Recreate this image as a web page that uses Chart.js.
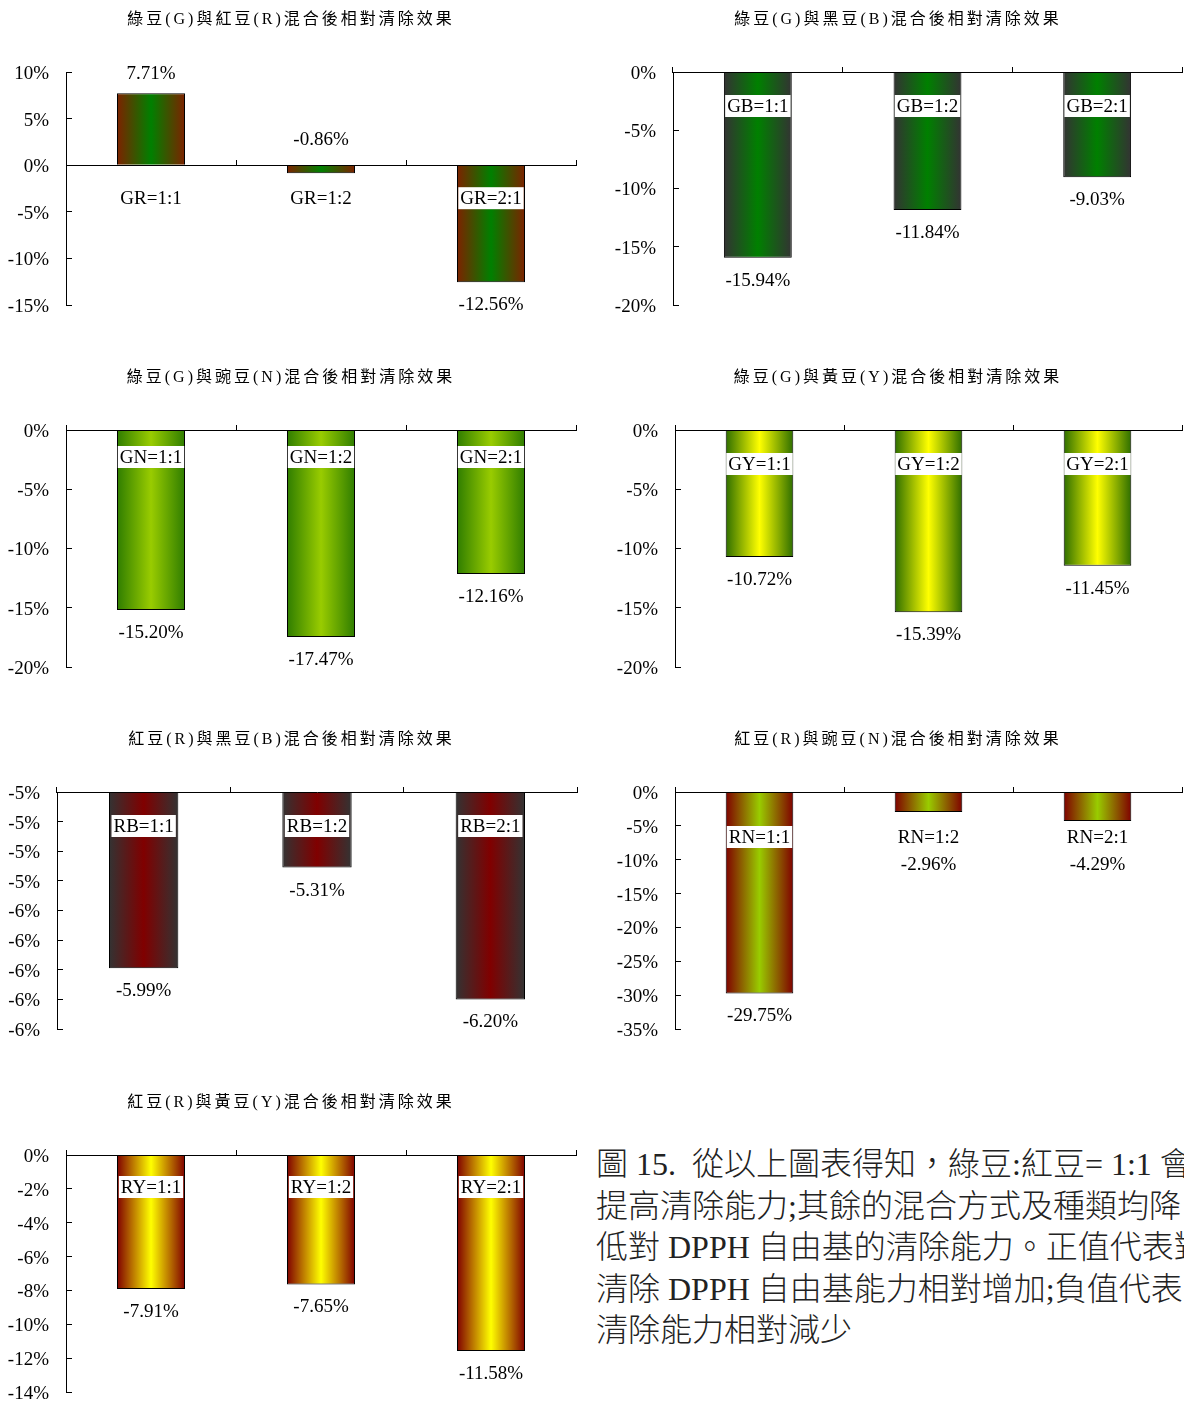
<!DOCTYPE html>
<html>
<head>
<meta charset="utf-8">
<title>混合後相對清除效果</title>
<script src="https://cdn.jsdelivr.net/npm/chart.js@4.4.0/dist/chart.umd.min.js"></script>
<style>
  html, body { margin: 0; padding: 0; background: #fff; overflow: hidden; }
  body { width: 1184px; height: 1403px; position: relative; }
  canvas { position: absolute; }
  #note {
    position: absolute; left: 596px; top: 1144px;
    font-family: "Liberation Serif", "Noto Sans CJK TC", serif;
    font-size: 32px; font-weight: 300; line-height: 41.5px; color: #222;
    white-space: pre;
  }
</style>
</head>
<body>
<div id="note">圖 15.  從以上圖表得知，綠豆:紅豆= 1:1 會
提高清除能力;其餘的混合方式及種類均降
低對 DPPH 自由基的清除能力。正值代表對
清除 DPPH 自由基能力相對增加;負值代表
清除能力相對減少</div>

<script>
// 綠豆(G)與紅豆(R)
const grLabels = ['GR=1:1', 'GR=1:2', 'GR=2:1'];
const grValues = [7.71, -0.86, -12.56];
const grTicks = [-15, -10, -5, 0, 5, 10];

// 綠豆(G)與黑豆(B)
const gbLabels = ['GB=1:1', 'GB=1:2', 'GB=2:1'];
const gbValues = [-15.94, -11.84, -9.03];
const gbTicks = [-20, -15, -10, -5, 0];

// 綠豆(G)與豌豆(N)
const gnLabels = ['GN=1:1', 'GN=1:2', 'GN=2:1'];
const gnValues = [-15.20, -17.47, -12.16];
const gnTicks = [-20, -15, -10, -5, 0];

// 綠豆(G)與黃豆(Y)
const gyLabels = ['GY=1:1', 'GY=1:2', 'GY=2:1'];
const gyValues = [-10.72, -15.39, -11.45];
const gyTicks = [-20, -15, -10, -5, 0];

// 紅豆(R)與黑豆(B) - axis runs from -4.8% down to -6.4%, labels rounded
const rbLabels = ['RB=1:1', 'RB=1:2', 'RB=2:1'];
const rbValues = [-5.99, -5.31, -6.20];
const rbTicks = [-6.4, -6.2, -6.0, -5.8, -5.6, -5.4, -5.2, -5.0, -4.8];
const rbTickLabels = ['-6%', '-6%', '-6%', '-6%', '-6%', '-5%', '-5%', '-5%', '-5%'];

// 紅豆(R)與豌豆(N)
const rnLabels = ['RN=1:1', 'RN=1:2', 'RN=2:1'];
const rnValues = [-29.75, -2.96, -4.29];
const rnTicks = [-35, -30, -25, -20, -15, -10, -5, 0];

// 紅豆(R)與黃豆(Y)
const ryLabels = ['RY=1:1', 'RY=1:2', 'RY=2:1'];
const ryValues = [-7.91, -7.65, -11.58];
const ryTicks = [-14, -12, -10, -8, -6, -4, -2, 0];

const serif = "'Liberation Serif', 'Noto Sans CJK TC', serif";

// where each chart sits on the page
const cols = [
  {left: 0, width: 582, padLeft: 6},
  {left: 614, width: 570, padLeft: 0}
];
const rows = [
  {top: 0, areaH: 233},
  {top: 358, areaH: 237},
  {top: 720, areaH: 237},
  {top: 1083, areaH: 237}
];

const specs = [
  {title: '綠豆(G)與紅豆(R)混合後相對清除效果', labels: grLabels, values: grValues, ticks: grTicks,
   edge: '#7d2200', mid: '#008000', col: 0, row: 0, yWidth: 60, right: 576, catGap: 33, clash: 'above'},
  {title: '綠豆(G)與黑豆(B)混合後相對清除效果', labels: gbLabels, values: gbValues, ticks: gbTicks,
   edge: '#333333', mid: '#008000', col: 1, row: 0, yWidth: 59, right: 1182, catGap: 34},
  {title: '綠豆(G)與豌豆(N)混合後相對清除效果', labels: gnLabels, values: gnValues, ticks: gnTicks,
   edge: '#2f7d00', mid: '#99cc00', col: 0, row: 1, yWidth: 60, right: 576, catGap: 27},
  {title: '綠豆(G)與黃豆(Y)混合後相對清除效果', labels: gyLabels, values: gyValues, ticks: gyTicks,
   edge: '#2e6e00', mid: '#ffff00', col: 1, row: 1, yWidth: 61, right: 1182, catGap: 34},
  {title: '紅豆(R)與黑豆(B)混合後相對清除效果', labels: rbLabels, values: rbValues, ticks: rbTicks, tickLabels: rbTickLabels,
   edge: '#333333', mid: '#800000', col: 0, row: 2, yWidth: 51, right: 577, catGap: 34},
  {title: '紅豆(R)與豌豆(N)混合後相對清除效果', labels: rnLabels, values: rnValues, ticks: rnTicks,
   edge: '#800000', mid: '#99cc00', col: 1, row: 2, yWidth: 61, right: 1182, catGap: 45, clash: 'below'},
  {title: '紅豆(R)與黃豆(Y)混合後相對清除效果', labels: ryLabels, values: ryValues, ticks: ryTicks,
   edge: '#800000', mid: '#ffff00', col: 0, row: 3, yWidth: 60, right: 576, catGap: 32}
];

function barFill(c, spec) {
  const chart = c.chart;
  const xs = chart.scales.x;
  if (!chart.chartArea || !xs) return spec.mid;
  const cx = xs.getPixelForValue(c.dataIndex);
  const w = xs.width / spec.labels.length * 0.4;
  const g = chart.ctx.createLinearGradient(cx - w / 2, 0, cx + w / 2, 0);
  g.addColorStop(0, spec.edge);
  g.addColorStop(0.5, spec.mid);
  g.addColorStop(1, spec.edge);
  return g;
}

// category names (white box) and value labels, plus letter spacing for the title
function labelPlugin(spec, base) {
  return {
    id: 'barLabels',
    beforeDraw(chart) { chart.ctx.letterSpacing = '3px'; },
    beforeDatasetsDraw(chart) { chart.ctx.letterSpacing = '0px'; },
    afterDatasetsDraw(chart) {
      const ctx = chart.ctx;
      const meta = chart.getDatasetMeta(0);
      const axisY = chart.scales.y.getPixelForValue(base);
      const catY = axisY + spec.catGap;
      ctx.save();
      ctx.font = '19px ' + serif;
      ctx.textAlign = 'center';
      ctx.textBaseline = 'middle';
      meta.data.forEach((bar, i) => {
        const name = spec.labels[i];
        const w = ctx.measureText(name).width;
        ctx.fillStyle = '#fff';
        ctx.fillRect(bar.x - w / 2 - 2, catY - 11, w + 4, 22);
        ctx.fillStyle = '#000';
        ctx.fillText(name, bar.x, catY + 1);

        const v = spec.values[i];
        let vy = v >= 0 ? bar.y - 19 : bar.y + 23;
        if (Math.abs(vy - catY) < 22) {
          vy = spec.clash === 'above' ? axisY - 25 : catY + 28;
        }
        ctx.fillText(v.toFixed(2) + '%', bar.x, vy);
      });
      ctx.restore();
    }
  };
}

function makeChart(spec) {
  const col = cols[spec.col];
  const row = rows[spec.row];
  const bottomPad = 35;
  const height = 72 + row.areaH + bottomPad;
  const canvas = document.createElement('canvas');
  canvas.width = col.width;
  canvas.height = height;
  canvas.style.left = col.left + 'px';
  canvas.style.top = row.top + 'px';
  document.body.appendChild(canvas);

  const yMin = spec.ticks[0];
  const yMax = spec.ticks[spec.ticks.length - 1];
  const base = Math.min(0, yMax);

  return new Chart(canvas.getContext('2d'), {
    type: 'bar',
    data: {
      labels: spec.labels,
      datasets: [{
        data: spec.values,
        base: base,
        backgroundColor: c => barFill(c, spec),
        borderColor: '#000',
        borderWidth: 1,
        barPercentage: 0.4,
        categoryPercentage: 1.0
      }]
    },
    options: {
      responsive: false,
      animation: false,
      devicePixelRatio: 1,
      layout: {
        padding: {left: col.padLeft, right: col.left + col.width - spec.right, top: 0, bottom: bottomPad}
      },
      plugins: {
        legend: {display: false},
        tooltip: {enabled: false},
        title: {
          display: true,
          text: spec.title,
          color: '#000',
          font: {family: serif, size: 16, weight: 'normal'},
          padding: {top: 10, bottom: 42.8}
        }
      },
      scales: {
        x: {
          position: {y: base},
          grid: {display: true, drawOnChartArea: false, drawTicks: true, tickLength: -6, color: '#000', offset: true},
          border: {display: true, color: '#000', width: 1, z: 1},
          ticks: {display: false}
        },
        y: {
          min: yMin,
          max: yMax,
          afterBuildTicks: ax => { ax.ticks = spec.ticks.map(v => ({value: v})); },
          afterFit: ax => { ax.width = spec.yWidth; },
          grid: {display: true, drawOnChartArea: false, drawTicks: true, tickLength: -6, color: '#000'},
          border: {display: true, color: '#000', width: 1},
          ticks: {
            z: 1,
            padding: 23,
            labelOffset: 2,
            color: '#000',
            font: {family: serif, size: 19},
            callback: (v, i) => spec.tickLabels ? spec.tickLabels[i] : v + '%'
          }
        }
      }
    },
    plugins: [labelPlugin(spec, base)]
  });
}

specs.forEach(makeChart);
</script>
</body>
</html>
